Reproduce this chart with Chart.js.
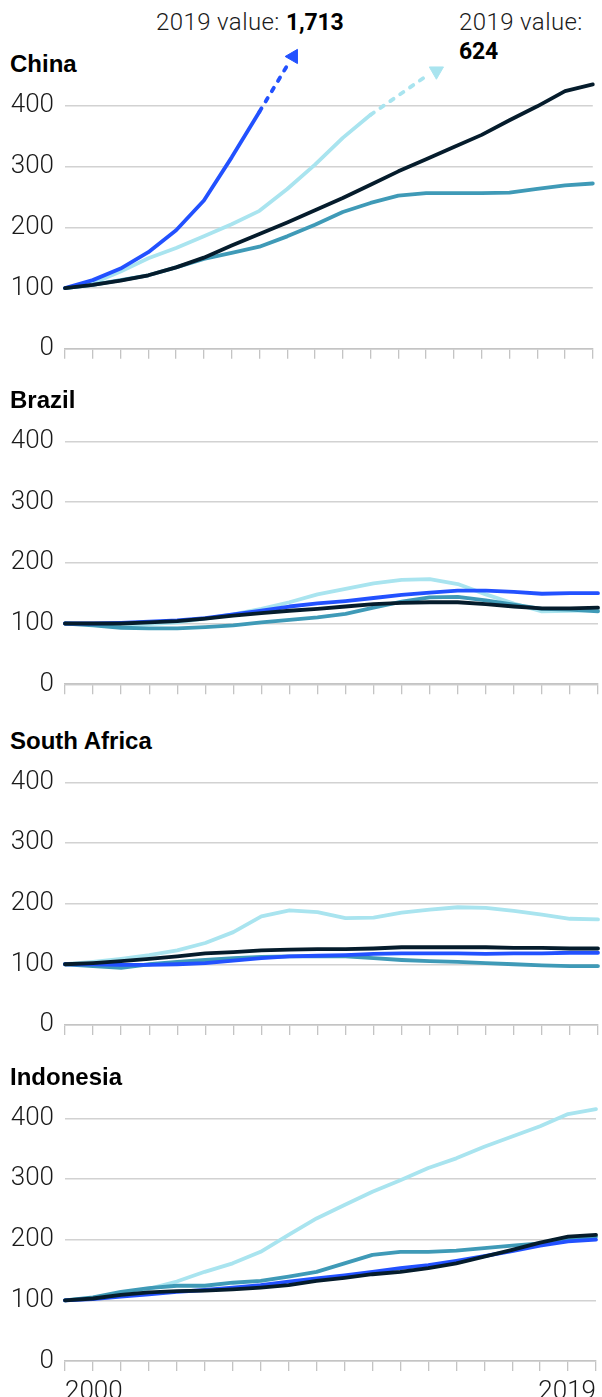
<!DOCTYPE html>
<html>
<head>
<meta charset="utf-8">
<script src="https://cdn.jsdelivr.net/npm/chart.js@4.4.1/dist/chart.umd.min.js"></script>
<style>
  html, body { margin: 0; padding: 0; background: #fff; }
  #wrap { position: relative; width: 602px; height: 1397px; overflow: hidden; }
  #wrap canvas { position: absolute; left: 0; }
  .title { position: absolute; left: 10px; font: bold 24px "Liberation Sans", Arial, sans-serif; line-height: 24px; color: #000; white-space: nowrap; }
  .note { position: absolute; font: 300 24px Roboto, sans-serif; letter-spacing: 0.4px; line-height: 29px; color: #1a1a1a; white-space: nowrap; }
  .note b { font-weight: 700; font-size: 23px; color: #000; letter-spacing: -0.2px; }
</style>
</head>
<body>
<div id="wrap">
  <div class="note" style="left:156px;top:8px">2019 value: <b>1,713</b></div>
  <div class="note" style="left:459px;top:8px">2019 value:<br><b>624</b></div>
</div>
<script>
const years = [2000, 2001, 2002, 2003, 2004, 2005, 2006, 2007, 2008, 2009,
               2010, 2011, 2012, 2013, 2014, 2015, 2016, 2017, 2018, 2019];
const yTicks = [0, 100, 200, 300, 400];

// China (index, 2000 = 100)
const chinaNavy = [100, 105, 112, 121, 134, 150, 170, 189, 208, 228, 248, 270, 292, 312, 332, 352, 376, 399, 424, 435];
const chinaTeal = [100, 105, 113, 121, 134, 148, 158, 168, 185, 204, 225, 240, 252, 256, 256, 256, 257, 263, 269, 272];
const chinaBlue = [100, 113, 132, 159, 195, 244, 315, 390];
const chinaCyan = [100, 108, 127, 149, 166, 185, 205, 227, 263, 303, 347, 385];
// dotted run-off toward the 2019 values that sit far above the axis
const chinaBlueTrailX = [2007, 2008.05];
const chinaBlueTrailY = [390, 470];
const chinaBlueArrow = { x: 2008.22, y: 481 };
const chinaCyanTrailX = [2011, 2012.95];
const chinaCyanTrailY = [385, 447];
const chinaCyanArrow = { x: 2013.37, y: 457 };

// Brazil
const brazilNavy = [100, 100, 100, 102, 104, 108, 113, 117, 121, 124, 128, 132, 134, 135, 135, 132, 128, 125, 125, 126];
const brazilBlue = [100, 100, 101, 103, 105, 109, 115, 121, 128, 133, 137, 142, 147, 151, 154, 154, 152, 149, 150, 150];
const brazilTeal = [100, 97, 93, 92, 92, 94, 97, 102, 106, 110, 116, 126, 136, 143, 144, 138, 131, 124, 123, 120];
const brazilCyan = [100, 99, 98, 99, 102, 108, 115, 124, 135, 148, 157, 166, 172, 173, 165, 148, 133, 120, 121, 122];

// South Africa
const saNavy = [100, 102, 105, 109, 113, 118, 120, 123, 124, 125, 125, 126, 128, 128, 128, 128, 127, 127, 126, 126];
const saBlue = [100, 100, 99, 99, 100, 102, 106, 110, 113, 114, 115, 117, 118, 118, 118, 117, 118, 118, 119, 119];
const saTeal = [100, 97, 94, 100, 104, 107, 110, 112, 113, 113, 113, 110, 107, 105, 104, 102, 100, 98, 97, 97];
const saCyan = [100, 104, 109, 115, 123, 135, 153, 179, 189, 186, 176, 177, 185, 190, 194, 193, 188, 182, 175, 174];

// Indonesia
const indoNavy = [100, 103, 109, 113, 115, 116, 118, 121, 125, 132, 137, 143, 147, 153, 161, 172, 183, 195, 205, 208];
const indoBlue = [100, 102, 106, 110, 114, 117, 121, 125, 131, 136, 141, 147, 153, 158, 165, 173, 181, 190, 197, 200];
const indoTeal = [100, 105, 114, 120, 124, 124, 129, 132, 139, 147, 161, 175, 180, 180, 182, 186, 190, 194, 201, 205];
const indoCyan = [100, 104, 112, 119, 131, 147, 161, 180, 208, 235, 257, 279, 298, 318, 334, 353, 370, 387, 407, 415];

const colors = {
  navy: '#051C2C',
  blue: '#2251FF',
  teal: '#3F9AB7',
  cyan: '#A9E4EF',
  grid: '#d2d2d2',
  tick: '#c4c4c4',
  text: '#1a1a1a'
};

Chart.defaults.font.family = 'Roboto, sans-serif';

function lineSet(values, color) {
  return {
    data: values.map((v, i) => ({ x: years[i], y: v })),
    borderColor: color,
    backgroundColor: color,
    borderWidth: 3.8,
    borderCapStyle: 'round',
    borderJoinStyle: 'round',
    pointRadius: 0,
    tension: 0,
    clip: false
  };
}

function trailSet(xs, ys, color) {
  return {
    data: xs.map((x, i) => ({ x: x, y: ys[i] })),
    borderColor: color,
    borderWidth: 3.8,
    borderCapStyle: 'round',
    borderDash: [4, 8],
    pointRadius: 0,
    tension: 0,
    clip: false
  };
}

function arrowSet(point, color, rotation) {
  return {
    data: [point],
    showLine: false,
    pointStyle: 'triangle',
    pointRadius: 8.2,
    pointRotation: rotation,
    pointBackgroundColor: color,
    pointBorderColor: color,
    pointBorderWidth: 1,
    clip: false
  };
}

const panels = [
  {
    title: 'China', y400: 105.7, y0: 348.8, yMax: 520,
    datasets: [
      lineSet(chinaNavy, colors.navy),
      lineSet(chinaBlue, colors.blue),
      trailSet(chinaBlueTrailX, chinaBlueTrailY, colors.blue),
      arrowSet(chinaBlueArrow, colors.blue, 270),
      lineSet(chinaTeal, colors.teal),
      lineSet(chinaCyan, colors.cyan),
      trailSet(chinaCyanTrailX, chinaCyanTrailY, colors.cyan),
      arrowSet(chinaCyanArrow, colors.cyan, 180)
    ]
  },
  {
    title: 'Brazil', y400: 441.4, y0: 684.2, yMax: 400,
    datasets: [
      lineSet(brazilNavy, colors.navy),
      lineSet(brazilBlue, colors.blue),
      lineSet(brazilTeal, colors.teal),
      lineSet(brazilCyan, colors.cyan)
    ]
  },
  {
    title: 'South Africa', y400: 782.3, y0: 1024.9, yMax: 400,
    datasets: [
      lineSet(saNavy, colors.navy),
      lineSet(saBlue, colors.blue),
      lineSet(saTeal, colors.teal),
      lineSet(saCyan, colors.cyan)
    ]
  },
  {
    title: 'Indonesia', y400: 1118.3, y0: 1361, yMax: 400, last: true,
    datasets: [
      lineSet(indoNavy, colors.navy),
      lineSet(indoBlue, colors.blue),
      lineSet(indoTeal, colors.teal),
      lineSet(indoCyan, colors.cyan)
    ]
  }
];

const wrap = document.getElementById('wrap');

panels.forEach(p => {
  const top = Math.round(p.y400) - 110;
  const height = p.last ? 1397 - top : Math.round(p.y0) + 40 - top;
  const axisH = p.last ? height - (p.y0 - top) : 10;
  const padBottom = p.last ? 0 : height - (p.y0 - top) - axisH;
  // top of the plot area sits at yMax on the same 400-unit spacing
  const areaTop = p.y0 - (p.y0 - p.y400) * p.yMax / 400;

  const title = document.createElement('div');
  title.className = 'title';
  title.textContent = p.title;
  title.style.top = (p.y400 - 53.3) + 'px';
  wrap.appendChild(title);

  const canvas = document.createElement('canvas');
  canvas.width = 602;
  canvas.height = height;
  canvas.style.top = top + 'px';
  wrap.appendChild(canvas);

  new Chart(canvas, {
    type: 'line',
    data: { datasets: p.datasets },
    options: {
      responsive: false,
      animation: false,
      events: [],
      layout: { padding: { top: areaTop - top, bottom: padBottom, left: 0, right: 4 } },
      plugins: { legend: { display: false }, tooltip: { enabled: false } },
      scales: {
        x: {
          type: 'linear',
          min: 2000,
          max: 2019,
          afterFit: s => { s.height = axisH; },
          grid: { drawOnChartArea: false, drawTicks: true, tickLength: 10, color: colors.tick, lineWidth: 1.3 },
          border: { display: true, color: colors.tick, width: 1.5 },
          ticks: {
            display: !!p.last,
            stepSize: 1,
            autoSkip: false,
            maxRotation: 0,
            align: 'inner',
            padding: 6,
            color: colors.text,
            font: { size: 26, weight: '300' },
            callback: v => (v === years[0] || v === years[years.length - 1]) ? String(v) : ''
          }
        },
        y: {
          min: 0,
          max: p.yMax,
          afterFit: s => { s.width = 65; },
          afterBuildTicks: s => { s.ticks = yTicks.map(v => ({ value: v })); },
          grid: { color: colors.grid, lineWidth: 1.4, drawTicks: false },
          border: { display: false },
          ticks: {
            padding: 11,
            color: colors.text,
            font: { size: 26, weight: '300' }
          }
        }
      }
    }
  });
});
</script>
</body>
</html>
